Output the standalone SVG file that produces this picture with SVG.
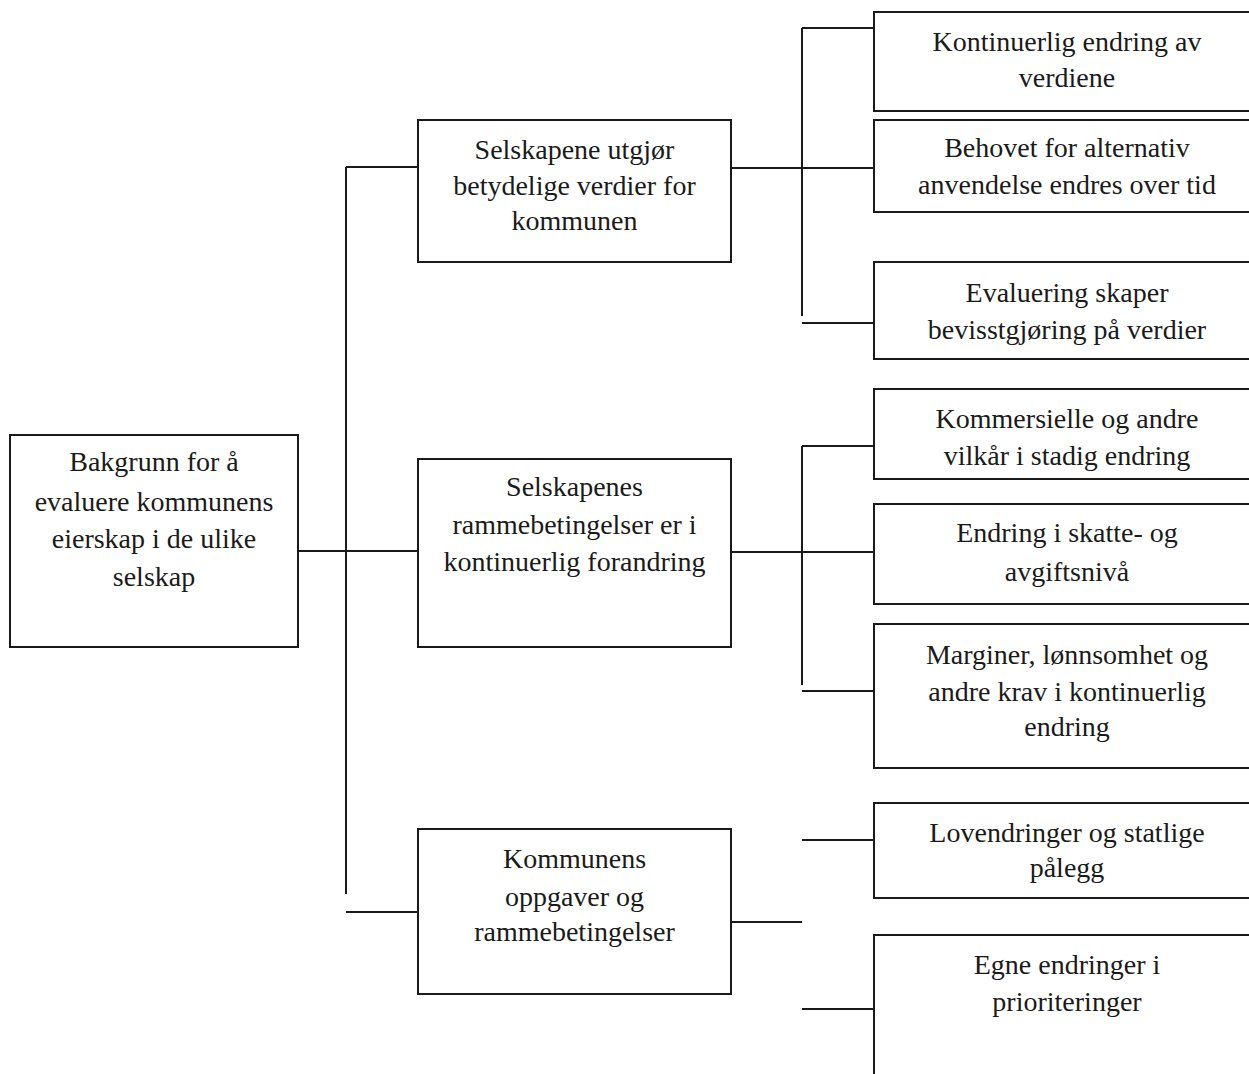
<svg xmlns="http://www.w3.org/2000/svg" width="1249" height="1074" viewBox="0 0 1249 1074">
<style>
.box{fill:#fff;stroke:#1a1a1a;stroke-width:2}
.ln{stroke:#1a1a1a;stroke-width:2;fill:none}
text{font-family:"Liberation Serif","DejaVu Serif",serif;font-size:28px;fill:#1a1a1a;text-anchor:middle}
</style>
<rect width="1249" height="1074" fill="#fff"/>
<g id="connectors">
<path class="ln" d="M298,551H418"/>
<path class="ln" d="M346,167V894"/>
<path class="ln" d="M346,167H418"/>
<path class="ln" d="M346,912H418"/>
<path class="ln" d="M731,168H874"/>
<path class="ln" d="M802,28V316"/>
<path class="ln" d="M802,28H874"/>
<path class="ln" d="M802,323H874"/>
<path class="ln" d="M731,552H874"/>
<path class="ln" d="M802,446V685"/>
<path class="ln" d="M802,446H874"/>
<path class="ln" d="M802,691H874"/>
<path class="ln" d="M731,922H802"/>
<path class="ln" d="M802,840H874"/>
<path class="ln" d="M802,1009H874"/>
</g>
<g id="root">
<rect class="box" x="10" y="435" width="288" height="212"/>
<text x="154" y="471">Bakgrunn for å</text>
<text x="154" y="511">evaluere kommunens</text>
<text x="154" y="548">eierskap i de ulike</text>
<text x="154" y="586">selskap</text>
</g>
<g id="mid1">
<rect class="box" x="418" y="120" width="313" height="142"/>
<text x="574.5" y="159">Selskapene utgjør</text>
<text x="574.5" y="195">betydelige verdier for</text>
<text x="574.5" y="230">kommunen</text>
</g>
<g id="mid2">
<rect class="box" x="418" y="459" width="313" height="188"/>
<text x="574.5" y="496">Selskapenes</text>
<text x="574.5" y="534">rammebetingelser er i</text>
<text x="574.5" y="571">kontinuerlig forandring</text>
</g>
<g id="mid3">
<rect class="box" x="418" y="829" width="313" height="165"/>
<text x="574.5" y="868">Kommunens</text>
<text x="574.5" y="906">oppgaver og</text>
<text x="574.5" y="941">rammebetingelser</text>
</g>
<g id="leaf1">
<rect class="box" x="874" y="12" width="390" height="99"/>
<text x="1067" y="51">Kontinuerlig endring av</text>
<text x="1067" y="87">verdiene</text>
</g>
<g id="leaf2">
<rect class="box" x="874" y="120" width="390" height="92"/>
<text x="1067" y="157">Behovet for alternativ</text>
<text x="1067" y="194">anvendelse endres over tid</text>
</g>
<g id="leaf3">
<rect class="box" x="874" y="262" width="390" height="97"/>
<text x="1067" y="302">Evaluering skaper</text>
<text x="1067" y="339">bevisstgjøring på verdier</text>
</g>
<g id="leaf4">
<rect class="box" x="874" y="389" width="390" height="90"/>
<text x="1067" y="428">Kommersielle og andre</text>
<text x="1067" y="465">vilkår i stadig endring</text>
</g>
<g id="leaf5">
<rect class="box" x="874" y="504" width="390" height="100"/>
<text x="1067" y="542">Endring i skatte- og</text>
<text x="1067" y="581">avgiftsnivå</text>
</g>
<g id="leaf6">
<rect class="box" x="874" y="624" width="390" height="144"/>
<text x="1067" y="664">Marginer, lønnsomhet og</text>
<text x="1067" y="701">andre krav i kontinuerlig</text>
<text x="1067" y="736">endring</text>
</g>
<g id="leaf7">
<rect class="box" x="874" y="803" width="390" height="95"/>
<text x="1067" y="842">Lovendringer og statlige</text>
<text x="1067" y="877">pålegg</text>
</g>
<g id="leaf8">
<rect class="box" x="874" y="935" width="390" height="160"/>
<text x="1067" y="974">Egne endringer i</text>
<text x="1067" y="1011">prioriteringer</text>
</g>
</svg>
